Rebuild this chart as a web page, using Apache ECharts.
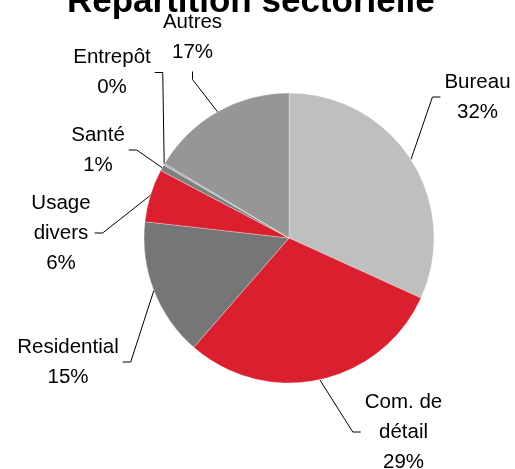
<!DOCTYPE html>
<html><head><meta charset="utf-8">
<script src="https://cdn.jsdelivr.net/npm/echarts@6/dist/echarts.min.js"></script>
<style>html,body{margin:0;padding:0;background:#fff}#c{width:515px;height:469px}</style>
</head><body><div id="c"></div>
<script>
const categories = ['Bureau', 'Com. de\ndétail', 'Residential', 'Usage\ndivers', 'Santé', 'Entrepôt', 'Autres'];
const values = [31.8, 29.6, 15.4, 5.9, 0.7, 0.2, 16.4];
const percentLabels = ['32%', '29%', '15%', '6%', '1%', '0%', '17%'];
const sliceColors = ['#BFBFBF', '#DA1F2E', '#767676', '#DA1F2E', '#7F7F7F', '#A6A6A6', '#969696'];
const labelCenters = [[477.5, 97], [403.5, 432], [68, 362], [61, 233], [98, 150], [112, 72.5], [192.5, 37.5]];

const GAP = 4, STUB = 8;
const chart = echarts.init(document.getElementById('c'), null, {renderer: 'canvas'});
chart.setOption({
  animation: false,
  title: {
    text: 'Répartition sectorielle',
    left: 62, top: -20,
    textStyle: {fontSize: 35, fontWeight: 'bold', fontFamily: 'Liberation Sans, Arial, sans-serif', color: '#000'}
  },
  series: [{
    type: 'pie',
    center: [289, 238],
    radius: 145,
    startAngle: 90,
    clockwise: true,
    avoidLabelOverlap: false,
    data: categories.map((n, i) => ({name: n, value: values[i], itemStyle: {color: sliceColors[i]}})),
    itemStyle: {borderColor: 'rgba(255,255,255,0.5)', borderWidth: 0.6},
    label: {
      show: true,
      formatter: p => p.name + '\n' + percentLabels[p.dataIndex],
      fontSize: 20.5,
      lineHeight: 30,
      fontFamily: 'Liberation Sans, Arial, sans-serif',
      color: '#000'
    },
    labelLine: {show: true, lineStyle: {color: '#000', width: 1}},
    emphasis: {disabled: true},
    labelLayout: function (p) {
      const c = labelCenters[p.dataIndex];
      const w = p.labelRect.width, h = p.labelRect.height;
      const l = c[0] - w / 2, r = c[0] + w / 2, t = c[1] - h / 2, b = c[1] + h / 2;
      const S = p.labelLinePoints ? p.labelLinePoints[0] : null;
      const out = {x: c[0], y: c[1], align: 'center', verticalAlign: 'middle'};
      if (S) {
        let pts;
        if (S[0] > r) pts = [S, [r + GAP + STUB, c[1]], [r + GAP, c[1]]];
        else if (S[0] < l) pts = [S, [l - GAP - STUB, c[1]], [l - GAP, c[1]]];
        else if (S[1] > b) pts = [S, [c[0], b + GAP + STUB], [c[0], b + GAP]];
        else pts = [S, [c[0], t - GAP - STUB], [c[0], t - GAP]];
        out.labelLinePoints = pts;
      }
      return out;
    }
  }]
});
</script></body></html>
